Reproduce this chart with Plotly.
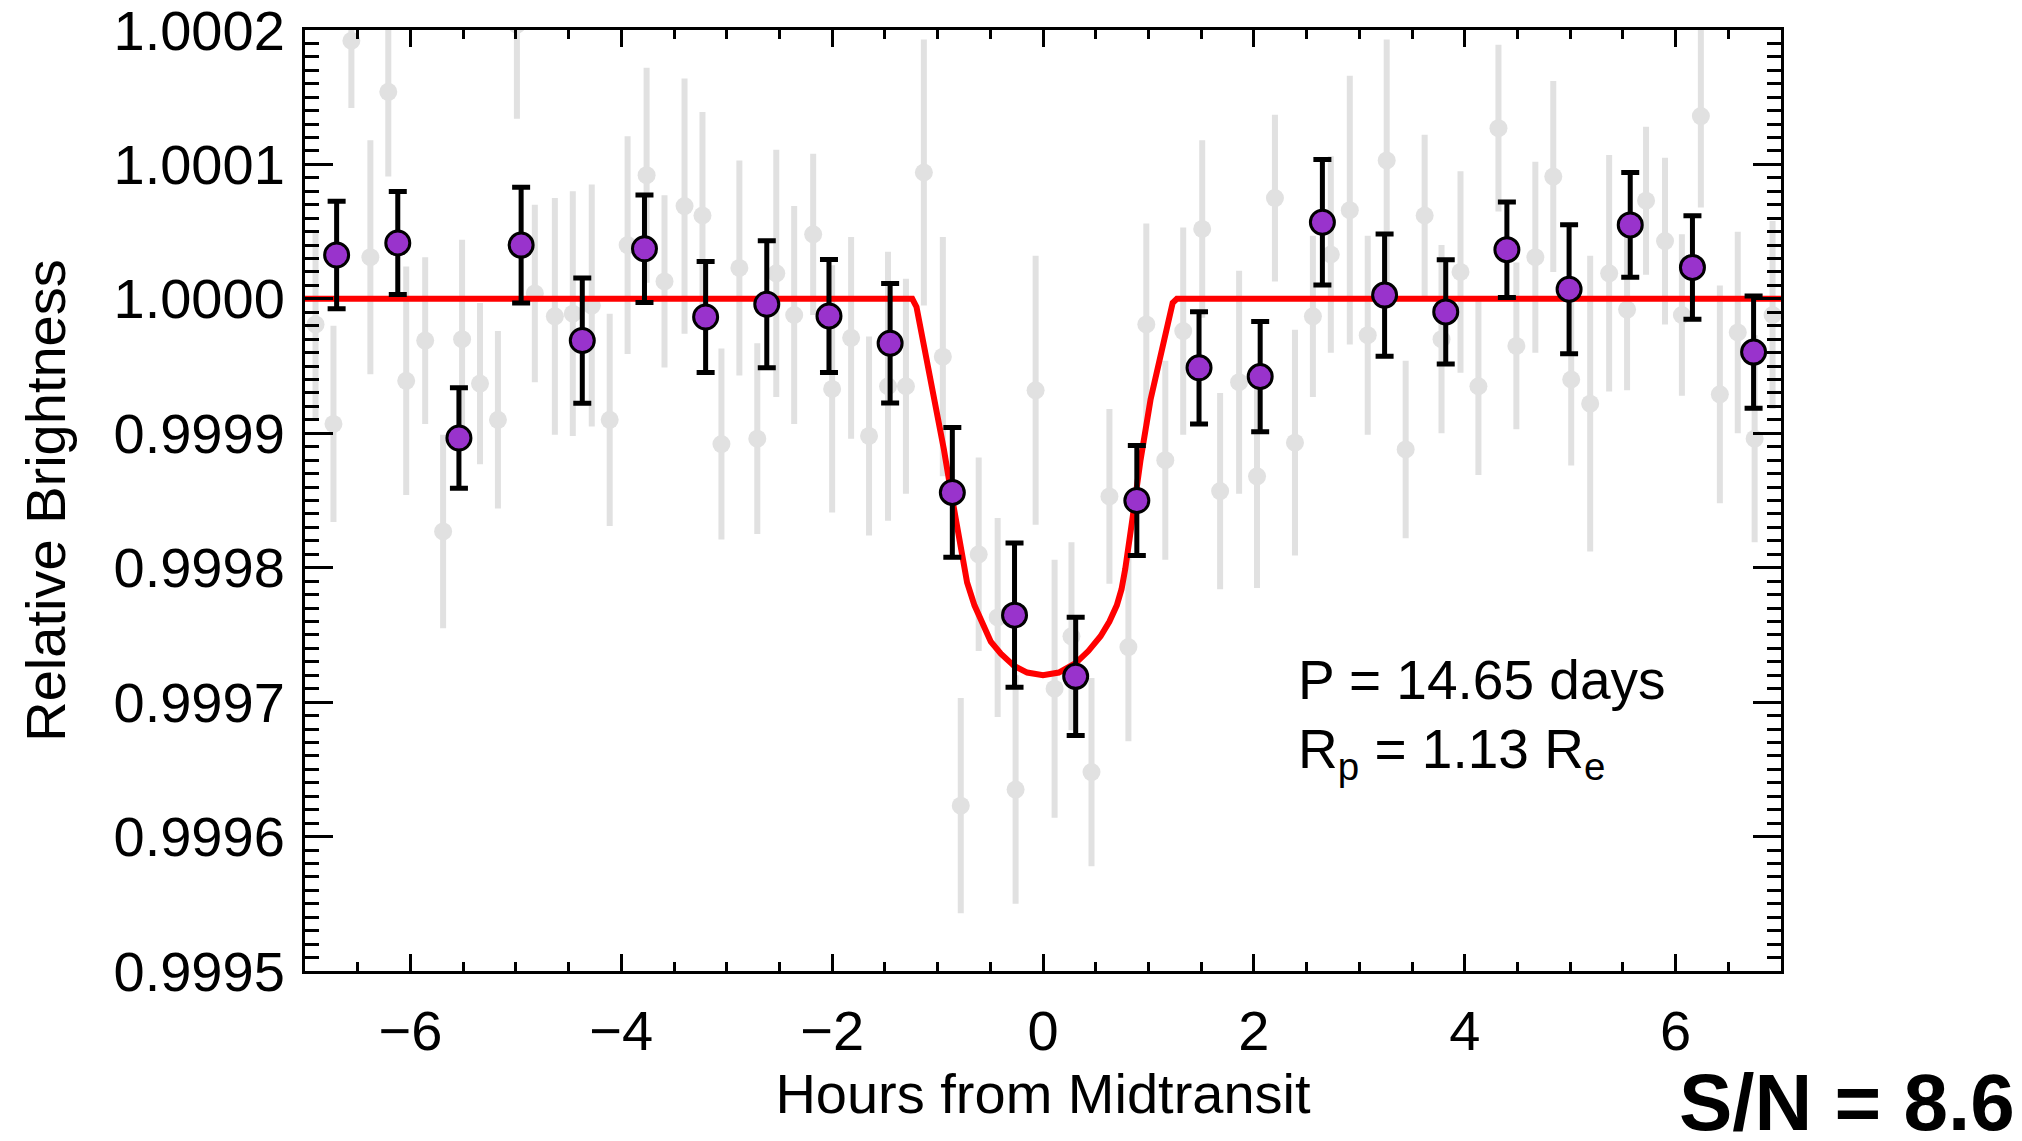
import plotly.graph_objects as go

# individual (unbinned) measurements, hours from midtransit
raw_time = [-6.90, -6.73, -6.56, -6.38, -6.21, -6.04, -5.86, -5.69, -5.51, -5.34,
            -5.17, -4.99, -4.82, -4.63, -4.46, -4.28, -4.11, -3.94, -3.76, -3.59,
            -3.40, -3.23, -3.05, -2.88, -2.71, -2.53, -2.36, -2.18, -2.00, -1.82,
            -1.65, -1.47, -1.30, -1.13, -0.95, -0.78, -0.61, -0.43, -0.26, -0.07,
            0.11, 0.27, 0.46, 0.63, 0.81, 0.98, 1.16, 1.33, 1.51, 1.68,
            1.86, 2.03, 2.20, 2.39, 2.56, 2.73, 2.91, 3.08, 3.26, 3.44,
            3.62, 3.78, 3.96, 4.13, 4.32, 4.49, 4.67, 4.84, 5.01, 5.19,
            5.37, 5.54, 5.72, 5.90, 6.06, 6.24, 6.42, 6.59, 6.75, 6.92]
raw_flux = [0.999981, 0.999907, 1.000192, 1.000031, 1.000154, 0.999939, 0.999969, 0.999827, 0.999970, 0.999937,
            0.999910, 1.000204, 1.000004, 0.999987, 0.999989, 0.999995, 0.999910, 1.000040, 1.000092, 1.000013,
            1.000069, 1.000062, 0.999892, 1.000023, 0.999896, 1.000019, 0.999988, 1.000048, 0.999933, 0.999971,
            0.999898, 0.999935, 0.999935, 1.000094, 0.999957, 0.999623, 0.999810, 0.999763, 0.999635, 0.999932,
            0.999710, 0.999749, 0.999648, 0.999853, 0.999741, 0.999981, 0.999880, 0.999976, 1.000052, 0.999857,
            0.999938, 0.999868, 1.000075, 0.999893, 0.999987, 1.000033, 1.000066, 0.999973, 1.000103, 0.999888,
            1.000062, 0.999970, 1.000020, 0.999935, 1.000127, 0.999965, 1.000031, 1.000091, 0.999940, 0.999922,
            1.000019, 0.999992, 1.000073, 1.000043, 0.999988, 1.000136, 0.999929, 0.999975, 0.999896, 0.999988]
raw_err = [0.000070, 0.000073, 0.000050, 0.000087, 0.000063, 0.000085, 0.000062, 0.000072, 0.000074, 0.000060,
           0.000066, 0.000070, 0.000066, 0.000088, 0.000091, 0.000090, 0.000079, 0.000081, 0.000080, 0.000064,
           0.000095, 0.000077, 0.000071, 0.000080, 0.000071, 0.000092, 0.000081, 0.000060, 0.000092, 0.000075,
           0.000074, 0.000100, 0.000080, 0.000099, 0.000089, 0.000080, 0.000072, 0.000074, 0.000085, 0.000100,
           0.000096, 0.000070, 0.000070, 0.000065, 0.000070, 0.000075, 0.000074, 0.000077, 0.000066, 0.000073,
           0.000083, 0.000083, 0.000062, 0.000084, 0.000060, 0.000073, 0.000100, 0.000074, 0.000090, 0.000066,
           0.000060, 0.000070, 0.000075, 0.000066, 0.000062, 0.000062, 0.000071, 0.000071, 0.000064, 0.000110,
           0.000088, 0.000060, 0.000055, 0.000062, 0.000060, 0.000068, 0.000081, 0.000075, 0.000077, 0.000070]

# binned points
bin_time = [-6.70, -6.12, -5.54, -4.95, -4.37, -3.78, -3.20, -2.62, -2.03, -1.45, -0.86, -0.27,
            0.31, 0.89, 1.48, 2.06, 2.65, 3.24, 3.82, 4.40, 4.99, 5.57, 6.16, 6.74]
bin_flux = [1.0000326, 1.0000416, 0.9998965, 1.0000400, 0.9999690, 1.0000373, 0.9999865, 0.9999960,
            0.9999873, 0.9999670, 0.9998560, 0.9997647, 0.9997192, 0.9998500, 0.9999487, 0.9999422,
            1.0000570, 1.0000028, 0.9999903, 1.0000366, 1.0000072, 1.0000550, 1.0000234, 0.9999604]
bin_err = [0.0000400, 0.0000383, 0.0000373, 0.0000430, 0.0000466, 0.0000400, 0.0000413, 0.0000473,
           0.0000420, 0.0000445, 0.0000483, 0.0000537, 0.0000440, 0.0000410, 0.0000417, 0.0000410,
           0.0000467, 0.0000455, 0.0000388, 0.0000355, 0.0000480, 0.0000390, 0.0000385, 0.0000417]

# transit model
model_time = [-7.0, -1.24, -1.20, -1.14, -1.07, -1.00, -0.94, -0.874, -0.82, -0.78, -0.72, -0.65,
              -0.57, -0.495, -0.40, -0.275, -0.15, 0.0, 0.15, 0.31, 0.43, 0.546, 0.63, 0.70,
              0.745, 0.78, 0.846, 0.925, 1.02, 1.13, 1.19, 1.23, 1.27, 7.0]
model_flux = [1.0, 1.0, 0.999994, 0.99997, 0.999943, 0.999916, 0.999888, 0.999857, 0.999832, 0.999812,
              0.999789, 0.999772, 0.999757, 0.999745, 0.999736, 0.999727, 0.999722, 0.99972, 0.999722,
              0.999729, 0.999738, 0.999749, 0.99976, 0.999772, 0.999784, 0.999799, 0.999835, 0.99988,
              0.999925, 0.999965, 0.999986, 0.999997, 1.0, 1.0]

FONT = "Liberation Sans, Arial, Helvetica, sans-serif"
GRAY = "#E1E1E1"
PURPLE = "#9933CC"

fig = go.Figure()

fig.add_trace(go.Scatter(
    x=raw_time, y=raw_flux, mode="markers",
    marker=dict(size=18, color=GRAY),
    error_y=dict(type="data", array=raw_err, color=GRAY, thickness=6, width=0),
    showlegend=False
))

fig.add_trace(go.Scatter(
    x=model_time, y=model_flux, mode="lines",
    line=dict(color="#FF0000", width=6),
    showlegend=False
))

fig.add_trace(go.Scatter(
    x=bin_time, y=bin_flux, mode="markers",
    marker=dict(size=24, color=PURPLE, line=dict(color="black", width=3)),
    error_y=dict(type="data", array=bin_err, color="black", thickness=5, width=9),
    showlegend=False
))

fig.add_annotation(
    xref="paper", yref="paper", x=0.6715, y=0.309, xanchor="left", yanchor="middle",
    text="P = 14.65 days", showarrow=False, font=dict(family=FONT, size=55, color="black")
)
fig.add_annotation(
    xref="paper", yref="paper", x=0.6715, y=0.2316, xanchor="left", yanchor="middle",
    text="R<sub>p</sub> = 1.13 R<sub>e</sub>", showarrow=False,
    font=dict(family=FONT, size=55, color="black")
)
fig.add_annotation(
    xref="paper", yref="paper", x=1.16, y=-0.14, xanchor="right", yanchor="middle",
    text="<b>S/N = 8.6</b>", showarrow=False, font=dict(family=FONT, size=80, color="black")
)

fig.update_layout(
    width=2022, height=1141,
    margin=dict(l=297, r=249, t=22, b=178),
    paper_bgcolor="white", plot_bgcolor="white",
    font=dict(family=FONT, color="black"),
    xaxis=dict(
        range=[-7, 7], dtick=2, tick0=0, automargin=False,
        ticks="inside", ticklen=17, tickwidth=3, tickcolor="black",
        minor=dict(dtick=0.5, ticks="inside", ticklen=9, tickwidth=2.5, tickcolor="black"),
        showline=True, linecolor="black", linewidth=3, mirror="ticks",
        showgrid=False, zeroline=False,
        tickfont=dict(size=56), ticklabelstandoff=9,
        title=dict(text="Hours from Midtransit", font=dict(size=56), standoff=0),
    ),
    yaxis=dict(
        range=[0.9995, 1.0002000001], dtick=0.0001, tick0=0.9995, tickformat=".4f",
        automargin=False,
        ticks="inside", ticklen=28, tickwidth=3, tickcolor="black",
        minor=dict(dtick=0.00001, ticks="inside", ticklen=14, tickwidth=2.5, tickcolor="black"),
        showline=True, linecolor="black", linewidth=3, mirror="ticks",
        showgrid=False, zeroline=False,
        tickfont=dict(size=56), ticklabelstandoff=6, ticklabeloverflow="allow",
        title=dict(text="Relative Brightness", font=dict(size=56), standoff=30),
    ),
)

fig.write_html("out.html")
